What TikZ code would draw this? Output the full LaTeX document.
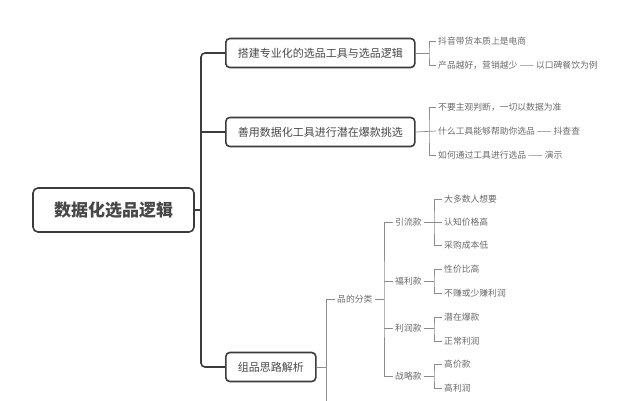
\documentclass[tikz,border=0pt]{standalone}
\usepackage{fontspec}
\setmainfont{Noto Sans CJK SC}
\usetikzlibrary{calc}
\definecolor{ink}{HTML}{3C3C3C}
\definecolor{txt}{HTML}{474747}
\definecolor{leafgray}{HTML}{6A6A6A}
\definecolor{twiggray}{HTML}{8C8C8C}
\begin{document}
\begin{tikzpicture}[x=1pt,y=-1pt,
  topic/.style={draw=ink,line width=1.6pt,rounded corners=4pt,text=txt,font=\fontsize{11}{13}\selectfont,inner xsep=12pt,minimum height=29pt,anchor=west},
  leaf/.style={text=leafgray,font=\fontsize{8.8}{10}\selectfont,inner xsep=2pt,inner ysep=1pt,anchor=west},
  trunk/.style={draw=ink,line width=1.6pt},
  twig/.style={draw=twiggray,line width=.7pt}]
\useasboundingbox (0,0) rectangle (637,400);
\node[draw=ink,line width=1.6pt,rounded corners=5pt,text=txt,font=\fontsize{17}{20}\selectfont\bfseries,minimum width=161pt,minimum height=44pt] (root) at (113.5,210){数据化选品逻辑};
\node[topic] (b1) at (225,53){搭建专业化的选品工具与选品逻辑};
\node[topic] (b2) at (225,132){善用数据化工具进行潜在爆款挑选};
\node[topic] (b3) at (225,367){组品思路解析};
\coordinate (tr) at (201,210);
\draw[trunk] (root.east) -- (tr);
\draw[trunk,rounded corners=4pt] (b1.west) -| (tr) |- (b3.west);
\draw[trunk] (b2.west) -- (b2.west -| tr);
\node[leaf] (l1a) at (436,41){抖音带货本质上是电商};
\node[leaf] (l1b) at (436,65){产品越好，营销越少 —— 以口碑餐饮为例};
\coordinate (j1) at (429,53);
\draw[twig] (b1.east) -- (j1);
\draw[twig] (l1a.west) -| (j1) |- (l1b.west);
\node[leaf] (l2a) at (436,107){不要主观判断，一切以数据为准};
\node[leaf] (l2b) at (436,131){什么工具能够帮助你选品 —— 抖查查};
\node[leaf] (l2c) at (436,155){如何通过工具进行选品 —— 演示};
\draw[twig] (b2.east) -- (l2b.west);
\draw[twig] (l2a.west) -| (l2b.west -| j1) |- (l2c.west);
\coordinate (j3) at (326,367);
\coordinate (more) at (326,420);
\node[leaf] (cls) at (335,299){品的分类};
\draw[twig] (b3.east) -- (j3);
\draw[twig] (cls.west) -| (more);
\coordinate (j4) at (384,299);
\draw[twig] (cls.east) -- (j4);
\node[leaf] (c1) at (393,222){引流款};
\node[leaf] (c2) at (393,281){福利款};
\node[leaf] (c3) at (393,328){利润款};
\node[leaf] (c4) at (393,376){战略款};
\draw[twig] (c1.west) -| (j4) |- (c4.west);
\draw[twig] (c2.west) -- (c2.west -| j4);
\draw[twig] (c3.west) -- (c3.west -| j4);
\node[leaf] (c1a) at (442,199){大多数人想要};
\node[leaf] (c1b) at (442,222){认知价格高};
\node[leaf] (c1c) at (442,245){采购成本低};
\node[leaf] (c2a) at (442,269){性价比高};
\node[leaf] (c2b) at (442,293){不赚或少赚利润};
\node[leaf] (c3a) at (442,317){潜在爆款};
\node[leaf] (c3b) at (442,341){正常利润};
\node[leaf] (c4a) at (442,364){高价款};
\node[leaf] (c4b) at (442,388){高利润};
\draw[twig] (c1.east) -- (c1b.west);
\draw[twig] (c1a.west) -| ($(c1b.west)+(-8,0)$) |- (c1c.west);
\draw[twig] (c2.east) -- ($(c2.east)!1!(c2.east -| c2a.west)+(-8,0)$);
\draw[twig] (c2a.west) -| ($(c2.east -| c2a.west)+(-8,0)$) |- (c2b.west);
\draw[twig] (c3.east) -- ($(c3.east -| c3a.west)+(-8,0)$);
\draw[twig] (c3a.west) -| ($(c3.east -| c3a.west)+(-8,0)$) |- (c3b.west);
\draw[twig] (c4.east) -- ($(c4.east -| c4a.west)+(-8,0)$);
\draw[twig] (c4a.west) -| ($(c4.east -| c4a.west)+(-8,0)$) |- (c4b.west);
\end{tikzpicture}
\end{document}
